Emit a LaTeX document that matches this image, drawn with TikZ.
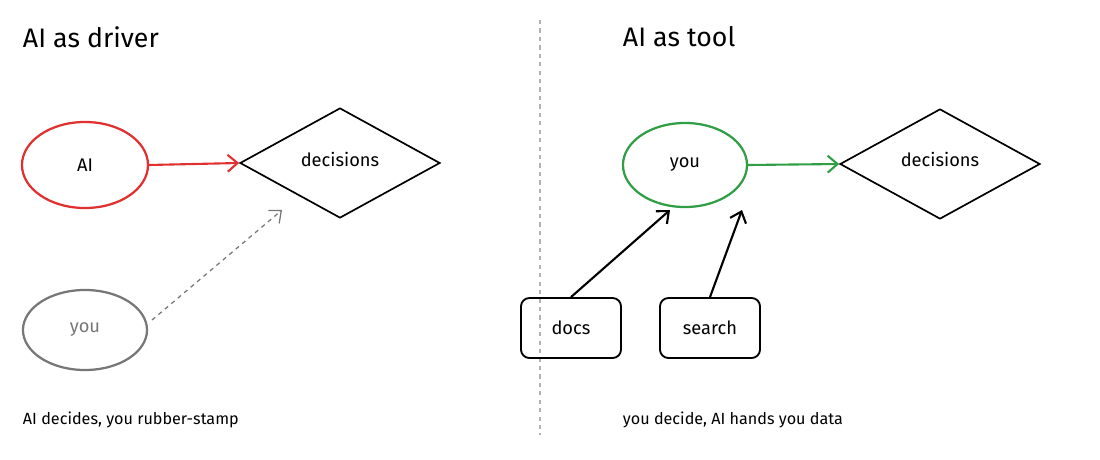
\documentclass[tikz,border=0pt]{standalone}
\usepackage{fontspec}
\setmainfont{Fira Sans}
\usetikzlibrary{arrows.meta,shapes.geometric}
\definecolor{cred}{HTML}{E03131}
\definecolor{cgreen}{HTML}{2F9E44}
\definecolor{cgrey}{HTML}{777777}
\begin{document}
\begin{tikzpicture}[x=0.025cm,y=-0.025cm,
  title/.style={anchor=west,font=\fontsize{19}{21}\selectfont},
  captxt/.style={anchor=west,font=\fontsize{11.5}{13}\selectfont},
  lab/.style={font=\fontsize{13}{15}\selectfont},
  dia/.style={diamond,draw,line width=1.2pt,minimum width=5cm,minimum height=2.75cm,aspect=1.8,inner sep=0,lab},
  box/.style={draw,line width=1.3pt,rounded corners=6pt,minimum width=2.5cm,minimum height=1.5cm,lab},
  arr/.style={-{Straight Barb[length=7pt,width=12pt]},line width=1.5pt}]
\useasboundingbox (0,0) rectangle (1100,460);
\node[title] (t1) at (18,37) {AI as driver};
\node[title] (t2) at (618,37) {AI as tool};
\node[ellipse,draw=cred,line width=1.6pt,minimum width=3.15cm,minimum height=2.15cm,lab] (ai) at (85,165) {AI};
\node[dia] (d1) at (340,163) {};
\node[lab] at (340,159) {decisions};
\draw[arr,cred] (ai.east) -- (d1.west);
\node[ellipse,draw=cgrey,line width=1.6pt,minimum width=3.1cm,minimum height=2cm,lab,text=cgrey] (you1) at (85,330) {you};
\coordinate (e1) at (282,210);
\draw[arr,cgrey,dashed,line width=0.9pt] (152,320) -- (e1);
\node[captxt] (c1) at (18,420) {AI decides, you rubber-stamp};
\coordinate (v1) at (540,20); \coordinate (v2) at (540,435);
\draw[gray!60,dashed,line width=0.8pt] (v1) -- (v2);
\node[ellipse,draw=cgreen,line width=1.6pt,minimum width=3.1cm,minimum height=2.1cm,lab] (you2) at (685,165) {you};
\node[dia] (d2) at (940,164) {};
\node[lab] at (940,159) {decisions};
\draw[arr,cgreen] (you2.east) -- (d2.west);
\node[box] (docs) at (571,328) {docs};
\node[box] (search) at (710,328) {search};
\coordinate (a1) at (670,210); \coordinate (a2) at (742,210);
\draw[arr] (docs.north) -- (a1);
\draw[arr] (search.north) -- (a2);
\node[captxt] (c2) at (618,420) {you decide, AI hands you data};
\end{tikzpicture}
\end{document}
